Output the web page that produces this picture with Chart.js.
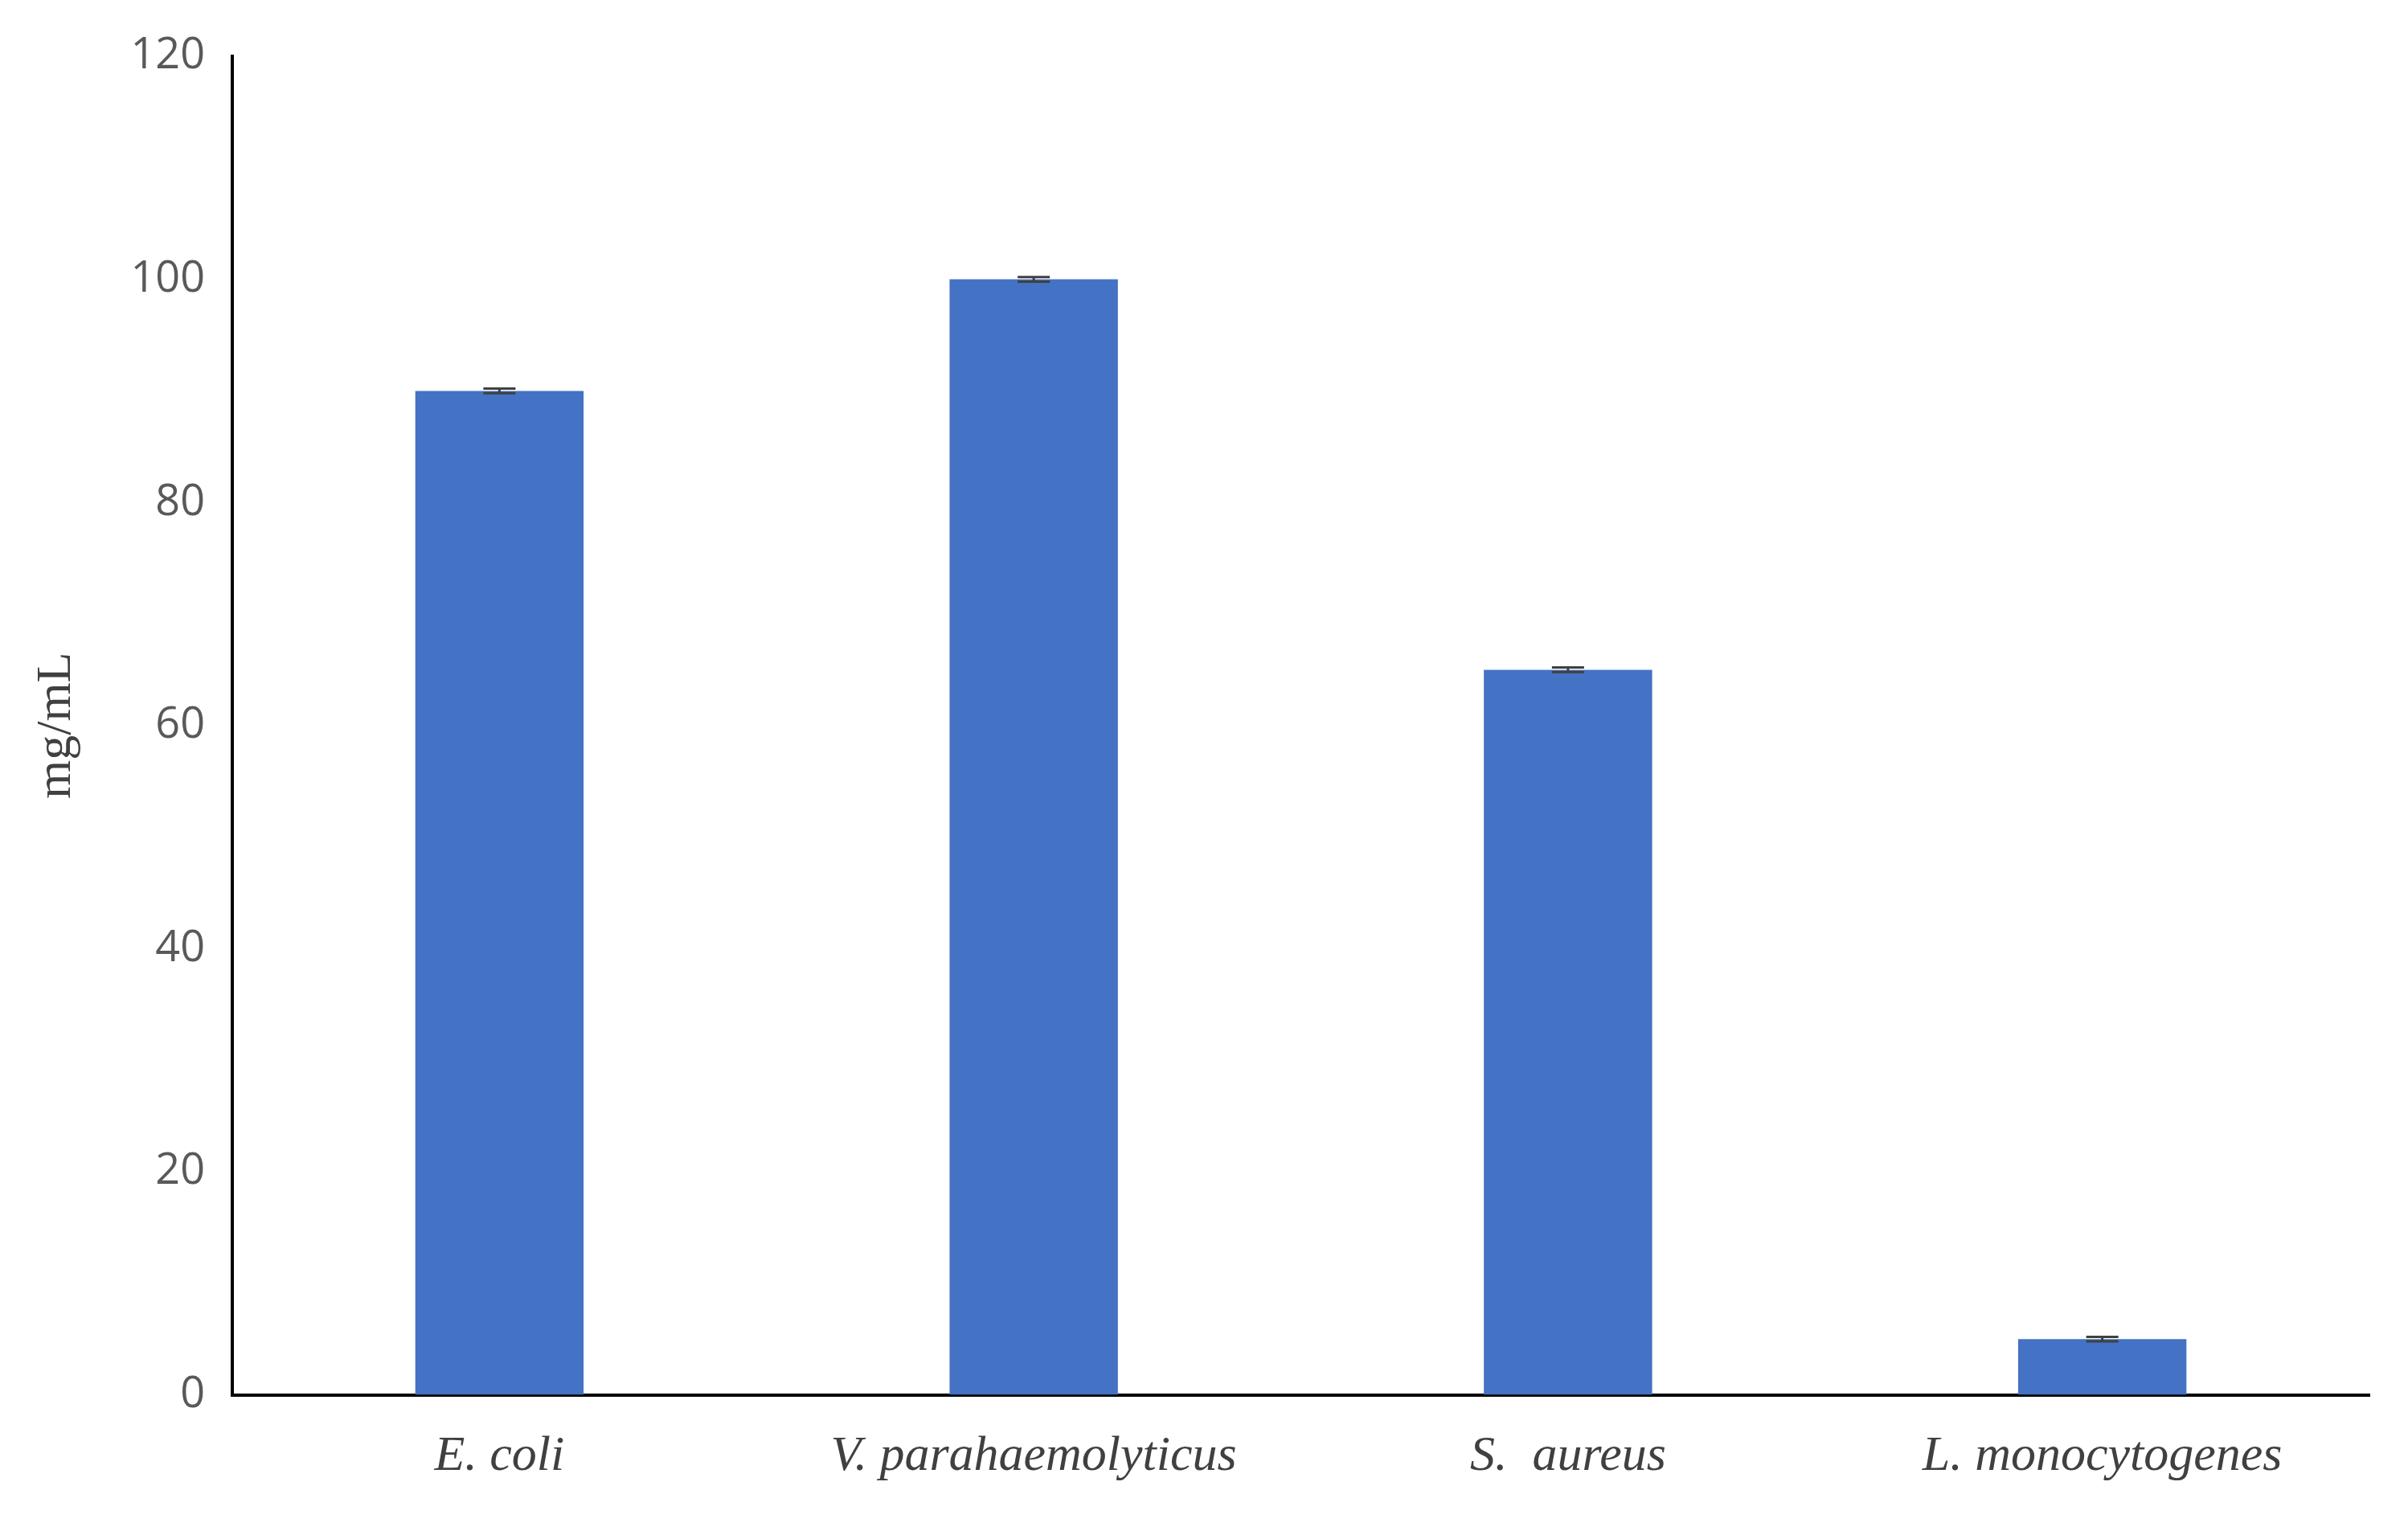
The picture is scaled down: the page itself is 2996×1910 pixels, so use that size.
<!DOCTYPE html>
<html>
<head>
<meta charset="utf-8">
<script src="https://cdn.jsdelivr.net/npm/chart.js@4/dist/chart.umd.min.js"></script>
<style>
  html, body { margin: 0; padding: 0; background: #fff; }
  #wrap { width: 2996px; height: 1910px; }
</style>
</head>
<body>
<div id="wrap"><canvas id="c"></canvas></div>
<script>
// MIC values per strain
var categories = ['E. coli', 'V. parahaemolyticus', 'S.  aureus', 'L. monocytogenes'];
var values     = [90, 100, 65, 5];
var errors     = [0.2, 0.2, 0.2, 0.2];
var yTicks     = [0, 20, 40, 60, 80, 100, 120];

// little error-bar caps on top of each bar
var errorBars = {
  id: 'errorBars',
  afterDatasetsDraw: function(chart) {
    var ctx = chart.ctx, y = chart.scales.y;
    var meta = chart.getDatasetMeta(0);
    ctx.save();
    ctx.strokeStyle = '#404040';
    ctx.lineWidth = 3;
    meta.data.forEach(function(bar, i) {
      var top = y.getPixelForValue(values[i] + errors[i]);
      var bot = y.getPixelForValue(values[i] - errors[i]);
      ctx.beginPath();
      ctx.moveTo(bar.x, top); ctx.lineTo(bar.x, bot);
      ctx.moveTo(bar.x - 20, top); ctx.lineTo(bar.x + 20, top);
      ctx.moveTo(bar.x - 20, bot); ctx.lineTo(bar.x + 20, bot);
      ctx.stroke();
    });
    ctx.restore();
  }
};

new Chart(document.getElementById('c').getContext('2d'), {
  type: 'bar',
  data: {
    labels: categories,
    datasets: [{
      data: values,
      backgroundColor: '#4472c4',
      categoryPercentage: 1,
      barPercentage: 0.315
    }]
  },
  options: {
    responsive: true,
    maintainAspectRatio: false,
    animation: false,
    layout: { padding: { top: 70, right: 48, bottom: 20, left: 30 } },
    plugins: { legend: { display: false }, tooltip: { enabled: false } },
    scales: {
      x: {
        grid: { display: false, drawTicks: false },
        border: { color: '#000', width: 4 },
        ticks: { color: '#404040', padding: 40, font: { family: 'Liberation Serif', style: 'italic', size: 62 } }
      },
      y: {
        min: 0, max: 120,
        afterBuildTicks: function(ax) { ax.ticks = yTicks.map(function(v) { return { value: v }; }); },
        grid: { display: false, drawTicks: false },
        border: { color: '#000', width: 4 },
        ticks: { color: '#595959', padding: 34, font: { family: 'Open Sans', size: 54 } },
        title: { display: true, text: 'mg/mL', color: '#404040', padding: { bottom: 20 }, font: { family: 'Liberation Serif', size: 62 } }
      }
    }
  },
  plugins: [errorBars]
});
</script>
</body>
</html>
